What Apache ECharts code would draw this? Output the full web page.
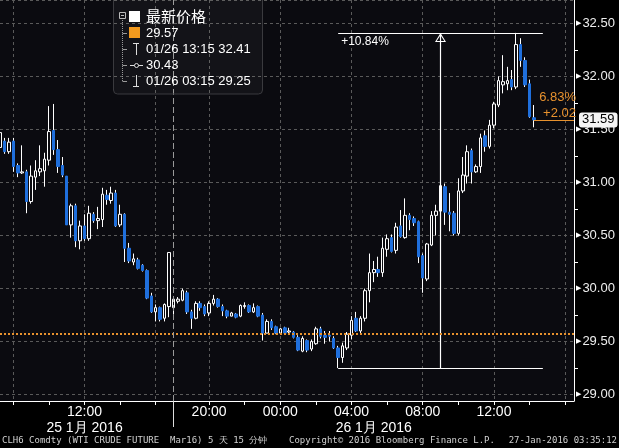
<!DOCTYPE html>
<html><head><meta charset="utf-8">
<script src="https://cdn.jsdelivr.net/npm/echarts@6/dist/echarts.min.js"></script>
<style>html,body{margin:0;padding:0;background:#000;}#c{width:619px;height:448px;}</style>
</head><body><div id="c"></div>
<script>
// ---- trading sessions (15-minute bars, the 17:00-18:00 break is skipped) ----
const sessions = [['01/25', '07:15', '16:45'], ['01/25', '18:00', '23:45'], ['01/26', '00:00', '16:30']];
function expandSession(day, from, to) {
  let [h, m] = from.split(':').map(Number);
  const [th, tm] = to.split(':').map(Number);
  const out = [];
  while (h * 60 + m <= th * 60 + tm) {
    out.push(day + ' ' + String(h).padStart(2, '0') + ':' + String(m).padStart(2, '0'));
    m += 15; if (m >= 60) { m -= 60; h++; }
  }
  return out;
}
const categories = sessions.flatMap(s => expandSession(s[0], s[1], s[2]));

// ---- OHLC values ----
const open = [
31.33,31.39,31.29,31.39,31.16,31.09,31.10,30.82,31.05,31.10,
31.11,31.21,31.49,31.31,31.16,31.06,30.60,30.78,30.45,30.59,
30.47,30.70,30.64,30.65,30.88,30.83,30.90,30.60,30.70,30.38,
30.25,30.27,30.22,30.17,29.93,29.78,29.82,29.72,29.83,29.82,
29.88,29.89,29.96,29.78,29.72,29.86,29.83,29.77,29.86,29.90,
29.83,29.79,29.74,29.76,29.74,29.83,29.84,29.78,29.83,29.75,
29.58,29.69,29.64,29.58,29.63,29.59,29.59,29.54,29.41,29.51,
29.43,29.48,29.62,29.56,29.56,29.53,29.44,29.35,29.44,29.56,
29.72,29.60,29.72,29.98,30.15,30.18,30.15,30.37,30.48,30.36,
30.59,30.48,30.69,30.66,30.63,30.31,30.09,30.41,30.69,30.73,
30.96,30.72,30.71,30.52,30.92,31.06,31.30,31.10,31.15,31.44,
31.34,31.54,31.73,31.92,31.93,31.97,31.90,32.30,32.15,31.93,
31.61];
const close = [
31.47,31.29,31.38,31.15,31.09,31.10,30.82,31.06,31.11,31.13,
31.22,31.48,31.31,31.15,31.07,30.60,30.78,30.45,30.59,30.47,
30.71,30.64,30.66,30.89,30.84,30.90,30.59,30.70,30.38,30.26,
30.28,30.19,30.17,29.91,29.78,29.82,29.71,29.85,30.34,29.90,
29.90,29.98,29.78,29.72,29.86,29.82,29.76,29.86,29.90,29.83,
29.79,29.74,29.77,29.73,29.84,29.84,29.78,29.82,29.74,29.58,
29.69,29.63,29.58,29.62,29.58,29.60,29.54,29.42,29.53,29.42,
29.50,29.62,29.55,29.54,29.55,29.44,29.35,29.46,29.57,29.70,
29.60,29.72,29.98,30.15,30.18,30.15,30.38,30.47,30.35,30.58,
30.49,30.69,30.65,30.62,30.30,30.10,30.42,30.69,30.73,30.97,
30.72,30.70,30.52,30.92,31.07,31.29,31.10,31.15,31.42,31.34,
31.54,31.74,31.96,31.95,31.96,31.90,32.30,32.15,31.92,31.62,
31.59];
const low = [
31.30,31.27,31.27,31.10,31.05,31.08,30.71,30.80,30.93,31.06,
30.96,31.16,31.26,31.09,31.05,30.60,30.48,30.39,30.37,30.45,
30.45,30.62,30.56,30.58,30.79,30.80,30.58,30.58,30.25,30.24,
30.22,30.18,30.16,29.90,29.77,29.69,29.69,29.69,29.73,29.74,
29.86,29.88,29.76,29.62,29.71,29.79,29.74,29.74,29.84,29.82,
29.74,29.72,29.74,29.72,29.73,29.81,29.77,29.77,29.73,29.51,
29.58,29.61,29.57,29.57,29.58,29.57,29.53,29.41,29.40,29.40,
29.41,29.47,29.53,29.48,29.50,29.43,29.25,29.30,29.42,29.52,
29.59,29.58,29.69,29.87,30.06,30.11,30.11,30.30,30.34,30.33,
30.48,30.47,30.55,30.59,30.24,29.96,30.07,30.40,30.50,30.71,
30.60,30.54,30.50,30.50,30.90,30.99,30.99,31.09,31.09,31.29,
31.32,31.51,31.71,31.84,31.87,31.87,31.88,32.09,31.90,31.61,
31.52];
const high = [
31.52,31.42,31.42,31.42,31.18,31.35,31.12,31.16,31.21,31.35,
31.28,31.72,31.74,31.40,31.24,31.06,30.80,30.80,30.64,30.70,
30.78,30.72,30.77,30.95,30.93,30.96,30.93,30.79,30.71,30.43,
30.33,30.29,30.23,30.18,29.96,29.85,29.83,29.86,30.34,29.93,
29.92,30.00,29.98,29.80,29.88,29.88,29.85,29.88,29.94,29.91,
29.85,29.80,29.78,29.77,29.85,29.87,29.85,29.86,29.84,29.77,
29.71,29.71,29.65,29.63,29.64,29.63,29.60,29.56,29.55,29.52,
29.52,29.64,29.64,29.60,29.60,29.55,29.46,29.49,29.59,29.74,
29.78,29.74,30.00,30.33,30.26,30.30,30.48,30.51,30.51,30.62,
30.74,30.85,30.71,30.68,30.64,30.33,30.43,30.73,30.79,31.01,
30.99,30.90,30.73,31.04,31.24,31.35,31.32,31.17,31.46,31.49,
31.59,31.76,32.00,32.20,32.09,32.06,32.41,32.36,32.18,31.97,
31.73];

// ---- reference values / labels ----
const prevClose = 29.57;
const avgPrice = 30.43;
const measurePct = '+10.84%';
const measureArrowAt = '01/26 09:00';
const measureEndAt = '01/26 14:45';
const sessionBreak = '01/25 18:00';
const timeLabels = ['01/25 12:00', '01/25 20:00', '01/26 00:00', '01/26 04:00', '01/26 08:00', '01/26 12:00'];
const gridTimes = ['01/25 08:00', '01/25 12:00', '01/25 16:00', '01/25 20:00', '01/26 00:00', '01/26 04:00', '01/26 08:00', '01/26 12:00', '01/26 16:00'];
const tickTimes = ['01/25 08:00', '01/25 10:00', '01/25 12:00', '01/25 14:00', '01/25 16:00', '01/25 20:00', '01/25 22:00',
  '01/26 00:00', '01/26 02:00', '01/26 04:00', '01/26 06:00', '01/26 08:00', '01/26 10:00', '01/26 12:00', '01/26 14:00', '01/26 16:00'];
const dateLabelAt = ['01/25 12:00', '01/26 05:15'];
const dateLabelText = ['25 1月 2016', '26 1月 2016'];
const footerLeft = 'CLH6 Comdty (WTI CRUDE FUTURE  Mar16) 5 天 15 分钟';
const footerMid = 'Copyright\u00A9 2016 Bloomberg Finance L.P.';
const footerRight = '27-Jan-2016 03:35:12';

const BG = '#0b0b10';
const BLUE = '#1f6fdc';
const ORANGE = '#e8922e';

const n = open.length;
const lastIdx = n - 1;
const lastPrice = close[lastIdx];
const lowVal = Math.min(...low), lowIdx = low.indexOf(lowVal);
const highVal = Math.max(...high), highIdx = high.indexOf(highVal);
const diff = lastPrice - prevClose;
const pct = diff / prevClose * 100;

const wickData = open.map((o, i) => [o, close[i], low[i], high[i]]);
const bodyData = open.map((o, i) => [o, close[i], Math.min(o, close[i]), Math.max(o, close[i])]);

const isMajor = v => Math.abs(v * 2 - Math.round(v * 2)) < 1e-6;
const arrowPath = 'path://M6,0 L12,10 L0,10 Z M6,2.6 L1.9,8.9 L10.1,8.9 Z';

const legendFont = 'Liberation Sans';
const gfx = [];
function gtext(x, y, text, fill, size, family, align) {
  gfx.push({type: 'text', x: x, y: y, z: 100, silent: true,
    style: {text: text, fill: fill, fontSize: size, fontFamily: family, verticalAlign: 'middle', align: align || 'left'}});
}
function gline(x1, y1, x2, y2, color, dash) {
  gfx.push({type: 'line', z: 100, silent: true, shape: {x1, y1, x2, y2},
    style: {stroke: color, lineWidth: 1, lineDash: dash || null}});
}
// legend box
gfx.push({type: 'rect', z: 90, silent: true, shape: {x: 113.5, y: -5, width: 149, height: 99, r: 4},
  style: {fill: 'rgba(255,255,255,0.035)', stroke: '#3a3a3e', lineWidth: 1}});
gline(122.5, 20, 122.5, 81.5, '#9a9a9a', [1, 1]);
[32.5, 49, 65, 81].forEach(y => gline(122.5, Math.round(y) + 0.5, 127, Math.round(y) + 0.5, '#9a9a9a'));
gfx.push({type: 'rect', z: 100, silent: true, shape: {x: 119.5, y: 12.5, width: 6, height: 6}, style: {fill: 'none', stroke: '#bbb', lineWidth: 1}});
gline(121, 15.5, 124, 15.5, '#bbb');
gfx.push({type: 'rect', z: 100, silent: true, shape: {x: 129, y: 11, width: 11, height: 11}, style: {fill: '#ffffff'}});
gfx.push({type: 'rect', z: 100, silent: true, shape: {x: 129, y: 27, width: 11, height: 11}, style: {fill: '#f39a1e'}});
gline(133, 43.5, 139, 43.5, '#ddd'); gline(136.5, 43, 136.5, 55, '#ddd');
gline(130, 65.5, 143, 65.5, '#ddd');
gfx.push({type: 'circle', z: 101, silent: true, shape: {cx: 136.5, cy: 65.5, r: 2}, style: {fill: BG, stroke: '#ddd', lineWidth: 1}});
gline(136.5, 75, 136.5, 87, '#ddd'); gline(133, 86.5, 139, 86.5, '#ddd');
gtext(146, 16, '最新价格', '#ffffff', 15, 'Noto Sans CJK SC');
gtext(146, 33, prevClose.toFixed(2), '#ffffff', 13, legendFont);
gtext(146, 49, categories[highIdx] + ' ' + highVal.toFixed(2), '#ffffff', 13, legendFont);
gtext(146, 65, avgPrice.toFixed(2), '#ffffff', 13, legendFont);
gtext(146, 81, categories[lowIdx] + ' ' + lowVal.toFixed(2), '#ffffff', 13, legendFont);
// footer
gtext(2, 441, footerLeft, '#d0d0d0', 9, 'DejaVu Sans Mono');
gtext(289, 441, footerMid, '#d0d0d0', 9, 'DejaVu Sans Mono');
gtext(617, 441, footerRight, '#d0d0d0', 9, 'DejaVu Sans Mono', 'right');

const option = {
  backgroundColor: '#000',
  animation: false,
  grid: {left: 0, right: 45, top: 0, bottom: 47, show: true, backgroundColor: BG, borderWidth: 0},
  xAxis: [{
    type: 'category', data: categories, boundaryGap: false, position: 'bottom',
    axisLine: {show: true, lineStyle: {color: '#ffffff', width: 1}},
    axisTick: {show: true, length: 4, lineStyle: {color: '#ffffff'}, interval: (i, v) => tickTimes.includes(v)},
    axisLabel: {show: true, color: '#ffffff', fontSize: 14, fontFamily: 'Liberation Sans', margin: 4,
      interval: (i, v) => timeLabels.includes(v), formatter: v => v.slice(6)},
    splitLine: {show: true, interval: (i, v) => gridTimes.includes(v), lineStyle: {color: '#5a5a5a', type: [3, 3], width: 1}}
  }, {
    type: 'category', data: categories, boundaryGap: false, position: 'bottom',
    axisLine: {show: false},
    axisTick: {show: true, length: 26, lineStyle: {color: '#dddddd'}, interval: (i, v) => v === sessionBreak},
    axisLabel: {show: true, color: '#ffffff', fontSize: 14, fontFamily: 'Liberation Sans', margin: 20,
      interval: (i, v) => dateLabelAt.includes(v), formatter: v => dateLabelText[dateLabelAt.indexOf(v)] || ''},
    splitLine: {show: false}
  }],
  yAxis: {
    type: 'value', position: 'right', min: 28.94, max: 32.72, splitNumber: 7,
    axisLine: {show: true, lineStyle: {color: '#ffffff', width: 1}},
    axisTick: {show: false},
    minorTick: {show: true, splitNumber: 2, length: 4, lineStyle: {color: '#ffffff'}},
    axisLabel: {margin: 2, showMinLabel: false, showMaxLabel: false,
      formatter: v => isMajor(v) ? '{t|\u25B6}{v|' + v.toFixed(2) + '}' : '',
      rich: {t: {fontSize: 7, color: '#ffffff', fontFamily: 'DejaVu Sans', padding: [0, 1, 0, 0]},
             v: {fontSize: 13, color: '#eeeeee', fontFamily: 'Liberation Sans'}}},
    splitLine: {show: true, lineStyle: {color: '#5a5a5a', type: [3, 3], width: 1}},
    axisPointer: {show: true, value: lastPrice, status: 'show', type: 'line', triggerTooltip: false,
      lineStyle: {opacity: 0},
      label: {show: true, backgroundColor: '#f4f4f4', color: '#000', fontSize: 13, fontFamily: 'Liberation Sans',
        padding: [1, 3, 1, 3], margin: 5, formatter: p => Number(p.value).toFixed(2)}}
  },
  series: [{
    name: 'wick', type: 'candlestick', data: wickData, barWidth: 1, z: 2,
    itemStyle: {color: '#ffffff', color0: '#ffffff', borderColor: '#ffffff', borderColor0: '#ffffff', borderWidth: 1},
    markLine: {
      silent: true, animation: false, label: {show: false},
      symbol: ['none', arrowPath], symbolSize: [11, 9], symbolOffset: [0, [0, 4.5]],
      lineStyle: {color: '#ffffff', width: 1.2, type: 'solid'},
      data: [[{coord: [measureArrowAt, lowVal]}, {coord: [measureArrowAt, highVal]}]]
    }
  }, {
    name: 'price', type: 'candlestick', data: bodyData, barWidth: 3, z: 3,
    itemStyle: {color: BG, color0: BLUE, borderColor: '#ffffff', borderColor0: BLUE, borderWidth: 1},
    markLine: {
      silent: true, animation: false, symbol: 'none', label: {show: false},
      data: [
        {yAxis: prevClose, lineStyle: {color: ORANGE, type: [2, 2], width: 2}},
        {xAxis: sessionBreak, lineStyle: {color: '#9a9a9a', type: [6, 3], width: 1}},
        [{coord: [categories[lowIdx], lowVal], lineStyle: {color: '#ffffff', width: 1.2, type: 'solid'}},
         {coord: [measureEndAt, lowVal]}],
        [{coord: [categories[lowIdx], highVal], lineStyle: {color: '#ffffff', width: 1.2, type: 'solid'},
          label: {show: true, position: 'insideStartBottom', formatter: measurePct, color: '#ffffff',
            fontSize: 12, fontFamily: 'Liberation Sans', distance: 3}},
         {coord: [measureEndAt, highVal]}],
        [{coord: [categories[lastIdx], lastPrice], lineStyle: {color: ORANGE, width: 1, type: 'solid'},
          label: {show: true, position: 'insideEndTop', formatter: pct.toFixed(2) + '%\n+' + diff.toFixed(2),
            color: ORANGE, fontSize: 13, lineHeight: 16, fontFamily: 'Liberation Sans', distance: -2, align: 'right'}},
         {coord: [categories[categories.length - 1], lastPrice]}]
      ]
    }
  }],
  graphic: gfx
};
const chart = echarts.init(document.getElementById('c'));
chart.setOption(option);
</script>
</body></html>
